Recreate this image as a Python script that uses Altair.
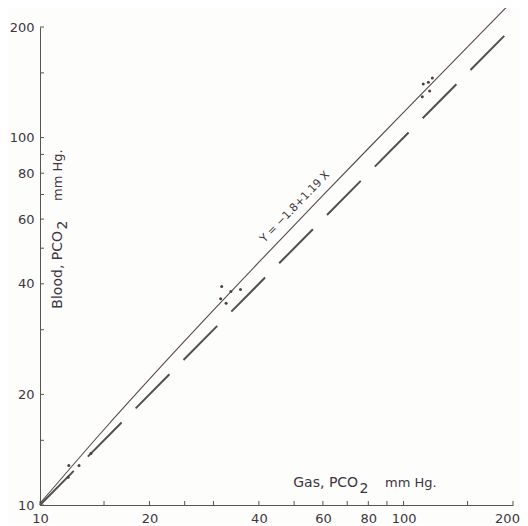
import altair as alt
import pandas as pd

# ---- data ----
pts_x = [12.0, 12.8, 11.95, 13.8,
         31.6, 33.5, 35.6, 31.4, 32.5,
         113.3, 117.0, 120.0, 118.0, 112.6]
pts_y = [12.8, 12.8, 11.9, 13.8,
         39.3, 38.1, 38.6, 36.4, 35.4,
         139.9, 141.4, 145.3, 133.9, 129.2]

# fitted line Y = -1.8 + 1.19 X
fit_x = [10, 15, 20, 30, 40, 60, 80, 100, 150, 200]
fit_y = [10.1, 16.05, 22.0, 33.9, 45.8, 69.6, 93.4, 117.2, 176.7, 236.2]

# identity (dashed) line
id_x = [10, 200]
id_y = [10, 200]

x_ticks = [10, 15, 20, 25, 30, 40, 50, 60, 70, 80, 90, 100, 150, 200]
y_ticks = [10, 15, 20, 30, 40, 50, 60, 70, 80, 90, 100, 150, 200]
x_labels = [10, 20, 40, 60, 80, 100, 200]
y_labels = [10, 20, 40, 60, 80, 100, 200]

INK = "#3e3540"
FONT = "DejaVu Sans"

xscale = alt.Scale(type="log", domain=[10, 200], nice=False)
yscale = alt.Scale(type="log", domain=[10, 200], nice=False)

xaxis = alt.Axis(values=x_labels, title=None, grid=False, ticks=False,
                 labelFont=FONT, labelFontSize=13, labelColor=INK,
                 labelPadding=7, domainColor="#555", labelFlush=False,
                 labelOverlap=False, format="d",
                 labelOffset={"condition": {"test": "datum.value == 200", "value": -6}, "value": 0})
yaxis = alt.Axis(values=y_labels, title=None, grid=False, ticks=False,
                 labelFont=FONT, labelFontSize=13, labelColor=INK,
                 labelPadding=6, domainColor="#555", labelFlush=False,
                 labelOverlap=False, format="d")

X = alt.X("x:Q", scale=xscale, axis=xaxis)
Y = alt.Y("y:Q", scale=yscale, axis=yaxis)

fit_df = pd.DataFrame({"x": fit_x, "y": fit_y})
id_df = pd.DataFrame({"x": id_x, "y": id_y})
pts_df = pd.DataFrame({"x": pts_x, "y": pts_y})

fit = alt.Chart(fit_df).mark_line(color="#5a4650", strokeWidth=1.1, clip=False,
                                  interpolate="monotone").encode(x=X, y=Y)
ident = alt.Chart(id_df).mark_line(color="#505050", strokeWidth=2,
                                   strokeDash=[48, 20]).encode(x=X, y=Y)
pts = alt.Chart(pts_df).mark_circle(color="#4a4048", size=9, opacity=1).encode(x=X, y=Y)

xt = alt.Chart(pd.DataFrame({"x": x_ticks})).mark_rule(color="#555").encode(
    x=X, y=alt.value(478), y2=alt.value(474))
yt = alt.Chart(pd.DataFrame({"y": y_ticks})).mark_rule(color="#555").encode(
    y=Y, x=alt.value(0), x2=alt.value(4))

# annotations
eq = alt.Chart(pd.DataFrame({"x": [50.3], "y": [64.7], "t": ["Y = −1.8+1.19 X"]})).mark_text(
    font=FONT, fontSize=11, color=INK, angle=314, align="center", baseline="middle"
).encode(x=X, y=Y, text="t:N")

gx1 = alt.Chart(pd.DataFrame({"x": [75.0], "y": [11.48], "t": ["Gas, PCO"]})).mark_text(
    font=FONT, fontSize=14, color=INK, align="right", baseline="middle"
).encode(x=X, y=Y, text="t:N")
gx2 = alt.Chart(pd.DataFrame({"x": [75.6], "y": [11.05], "t": ["2"]})).mark_text(
    font=FONT, fontSize=14, color=INK, align="left", baseline="middle"
).encode(x=X, y=Y, text="t:N")
gx3 = alt.Chart(pd.DataFrame({"x": [88.9], "y": [11.48], "t": ["mm Hg."]})).mark_text(
    font=FONT, fontSize=13, color=INK, align="left", baseline="middle"
).encode(x=X, y=Y, text="t:N")

by1 = alt.Chart(pd.DataFrame({"x": [11.2], "y": [55.7], "t": ["Blood, PCO"]})).mark_text(
    font=FONT, fontSize=14, color=INK, align="right", baseline="middle", angle=270
).encode(x=X, y=Y, text="t:N")
by2 = alt.Chart(pd.DataFrame({"x": [11.6], "y": [56.2], "t": ["2"]})).mark_text(
    font=FONT, fontSize=14, color=INK, align="left", baseline="middle", angle=270
).encode(x=X, y=Y, text="t:N")
by3 = alt.Chart(pd.DataFrame({"x": [11.2], "y": [67.2], "t": ["mm Hg."]})).mark_text(
    font=FONT, fontSize=13, color=INK, align="left", baseline="middle", angle=270
).encode(x=X, y=Y, text="t:N")

chart = alt.layer(ident, fit, pts, xt, yt, eq, gx1, gx2, gx3, by1, by2, by3).properties(
    width=473, height=478,
    autosize=alt.AutoSizeParams(type="none"),
    padding={"left": 32, "top": 19, "right": 7, "bottom": 19},
    background="#fdfdfb",
).configure_view(stroke=None)

chart.save("out.html", embed_options={"renderer": "svg", "actions": False})
